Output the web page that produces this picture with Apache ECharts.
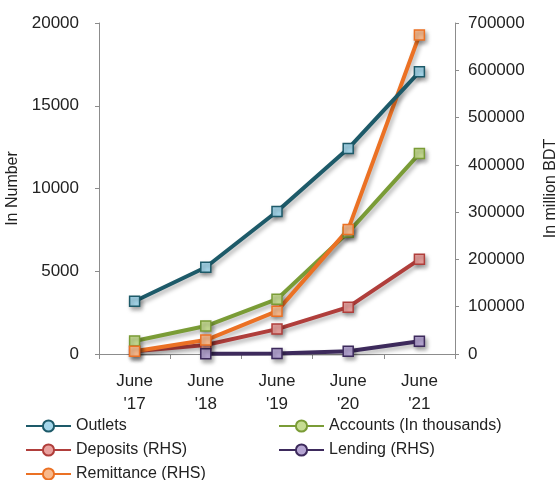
<!DOCTYPE html>
<html>
<head>
<meta charset="utf-8">
<script src="https://cdn.jsdelivr.net/npm/echarts@6/dist/echarts.min.js"></script>
<style>
  html, body { margin: 0; padding: 0; background: #fff; }
  #chart { width: 559px; height: 480px; }
</style>
</head>
<body>
<div id="chart"></div>
<script>
// Agent banking growth, June 2017 – June 2021
const categories = ["June\n'17", "June\n'18", "June\n'19", "June\n'20", "June\n'21"];

// Left axis (in number)
const outlets = [3190, 5240, 8610, 12410, 17050];
const accounts = [790, 1690, 3310, 7350, 12110];

// Right axis (in million BDT)
const deposits = [6000, 19000, 52700, 99000, 200300];
const lending = [null, 300, 1000, 6000, 27000];
const remittance = [6000, 29500, 90600, 263500, 674700];

const leftTicks = { min: 0, max: 20000, interval: 5000 };
const rightTicks = { min: 0, max: 700000, interval: 100000 };

const FONT = 'Liberation Sans, Arial, sans-serif';
const AXIS_GRAY = '#8c8c8c';
const TEXT = '#222';

function makeSeries(name, values, yIndex, lineColor, fillColor) {
  return {
    name: name,
    type: 'line',
    yAxisIndex: yIndex,
    // circle at series level keeps the legend glyph round; points are squares
    symbol: 'circle',
    symbolSize: 10,
    data: values.map(v => (v === null ? null : { value: v, symbol: 'rect' })),
    lineStyle: {
      color: lineColor,
      width: 4,
      shadowColor: 'rgba(0,0,0,0.3)',
      shadowBlur: 4,
      shadowOffsetX: 2,
      shadowOffsetY: 3
    },
    itemStyle: {
      color: fillColor,
      borderColor: lineColor,
      borderWidth: 1.5,
      shadowColor: 'rgba(0,0,0,0.35)',
      shadowBlur: 4,
      shadowOffsetX: 2,
      shadowOffsetY: 3
    },
    emphasis: { disabled: true },
    animation: false
  };
}

function legendColumn(left, names) {
  return {
    orient: 'vertical',
    left: left,
    top: 411,
    height: 90,
    itemWidth: 45,
    itemHeight: 14,
    itemGap: 4,
    selectedMode: false,
    textStyle: { fontFamily: FONT, fontSize: 16, color: TEXT, lineHeight: 20 },
    data: names
  };
}

const chart = echarts.init(document.getElementById('chart'), null, { renderer: 'canvas' });

chart.setOption({
  animation: false,
  textStyle: { fontFamily: FONT },
  grid: { left: 99, right: 104, top: 23, bottom: 126, containLabel: false, outerBoundsMode: 'none' },
  legend: [
    legendColumn(20, ['Outlets', 'Deposits (RHS)', 'Remittance (RHS)']),
    legendColumn(273, ['Accounts (In thousands)', 'Lending (RHS)'])
  ],
  xAxis: {
    type: 'category',
    data: categories,
    boundaryGap: true,
    axisLine: { lineStyle: { color: AXIS_GRAY, width: 1 } },
    axisTick: { show: true, length: 5, lineStyle: { color: AXIS_GRAY } },
    axisLabel: { color: TEXT, fontSize: 17, fontFamily: FONT, lineHeight: 23, margin: 16 },
    splitLine: { show: false }
  },
  yAxis: [
    {
      type: 'value',
      min: leftTicks.min, max: leftTicks.max, interval: leftTicks.interval,
      name: 'In Number',
      nameLocation: 'middle',
      nameGap: 70,
      nameRotate: 90,
      nameTextStyle: { color: TEXT, fontSize: 16, fontFamily: FONT },
      axisLine: { show: true, lineStyle: { color: AXIS_GRAY } },
      axisTick: { show: true, length: 4, lineStyle: { color: AXIS_GRAY } },
      axisLabel: { color: TEXT, fontSize: 17, fontFamily: FONT, margin: 20, formatter: v => String(v) },
      splitLine: { show: false }
    },
    {
      type: 'value',
      min: rightTicks.min, max: rightTicks.max, interval: rightTicks.interval,
      name: 'In million BDT',
      nameLocation: 'middle',
      nameGap: 88,
      nameRotate: 90,
      nameTextStyle: { color: TEXT, fontSize: 16, fontFamily: FONT },
      position: 'right',
      axisLine: { show: true, lineStyle: { color: AXIS_GRAY } },
      axisTick: { show: true, length: 4, lineStyle: { color: AXIS_GRAY } },
      axisLabel: { color: TEXT, fontSize: 17, fontFamily: FONT, margin: 13, formatter: v => String(v) },
      splitLine: { show: false }
    }
  ],
  series: [
    makeSeries('Deposits (RHS)', deposits, 1, '#B03E3B', '#E9A19E'),
    makeSeries('Lending (RHS)', lending, 1, '#3D2A5C', '#B5A5D2'),
    makeSeries('Accounts (In thousands)', accounts, 0, '#7A9C36', '#C6DC92'),
    makeSeries('Remittance (RHS)', remittance, 1, '#EB7124', '#F8B98C'),
    makeSeries('Outlets', outlets, 0, '#1D5A69', '#A4D6EA')
  ]
});
</script>
</body>
</html>
